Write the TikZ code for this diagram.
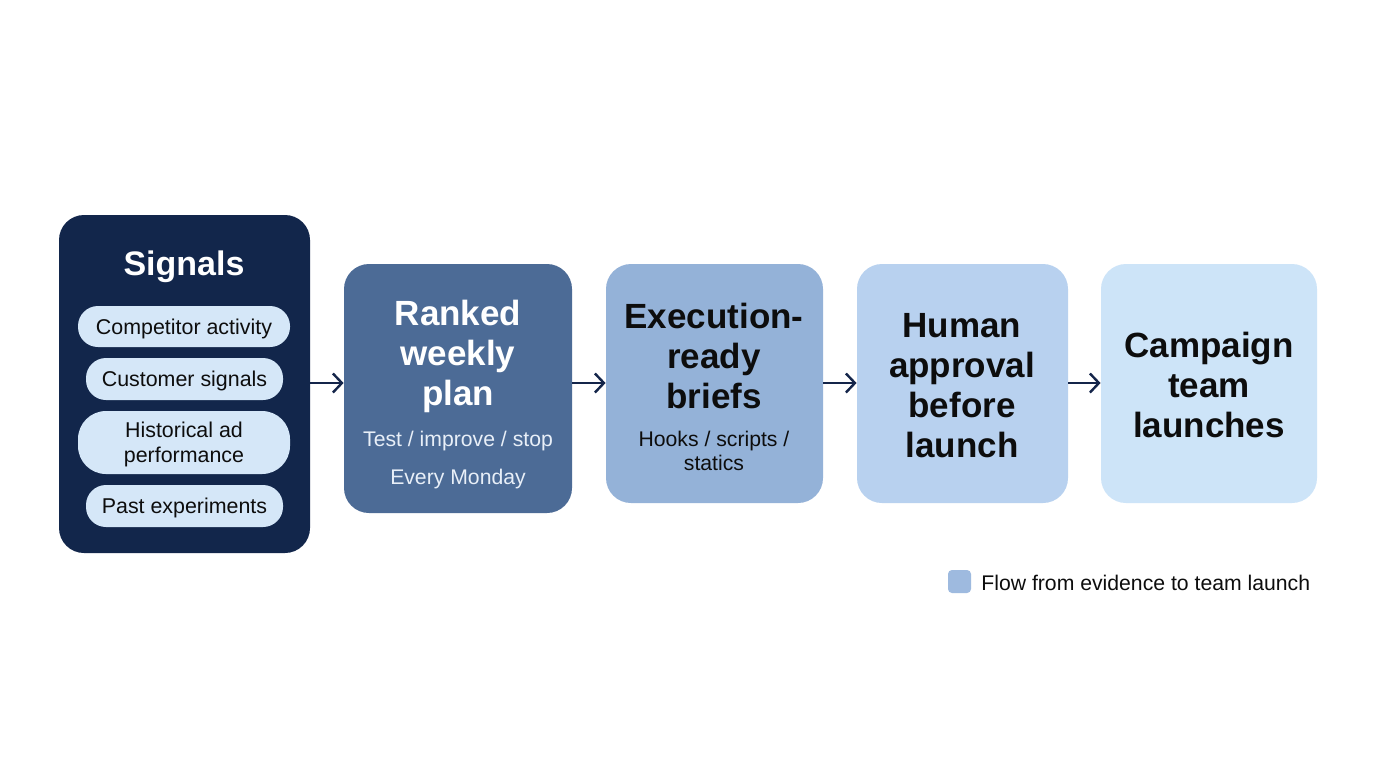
\documentclass[tikz,border=0pt]{standalone}
\usepackage{fontspec}
\setmainfont{Liberation Sans}
\usetikzlibrary{arrows.meta}
\definecolor{navy}{HTML}{12264B}
\definecolor{rankc}{HTML}{4C6B96}
\definecolor{execc}{HTML}{94B2D8}
\definecolor{humanc}{HTML}{B8D1EF}
\definecolor{campc}{HTML}{CDE4F8}
\definecolor{pillc}{HTML}{D5E7F8}
\definecolor{arrowc}{HTML}{14254A}
\definecolor{legc}{HTML}{9EBADF}
\definecolor{inkc}{HTML}{0D0D0D}
\definecolor{softw}{HTML}{E8EFF8}
\newcommand{\pilltxt}[1]{\raisebox{-0.36em}[0pt][0pt]{#1}}
\tikzset{
  stagebox/.style={draw=none, rounded corners=12.5pt, inner sep=0pt},
  pillbox/.style={draw=none, fill=pillc, rounded corners=10pt, inner sep=0pt, minimum width=106pt, text=inkc, font=\fontsize{10.7}{12.3}\selectfont, align=center},
  titletext/.style={font=\bfseries\fontsize{17.5}{20}\selectfont, align=center, inner sep=0pt},
  bodytext/.style={font=\fontsize{10.6}{12}\selectfont, align=center, inner sep=0pt},
  flow/.style={draw=arrowc, line width=1.2pt, -{Straight Barb[length=4.5pt,width=9.5pt,line width=1.2pt]}}
}
\begin{document}
\begin{tikzpicture}[x=0.5pt,y=-0.5pt]
\useasboundingbox[fill=white] (0,0) rectangle (1376,768);
% stage boxes
\node[stagebox, fill=navy, minimum width=125.5pt, minimum height=169pt] (sig) at (184.5,384) {};
\node[stagebox, fill=rankc, minimum width=114pt, minimum height=124.5pt] (rank) at (458,388.5) {};
\node[stagebox, fill=execc, minimum width=108.5pt, minimum height=119.5pt] (exec) at (714.5,383.5) {};
\node[stagebox, fill=humanc, minimum width=105.5pt, minimum height=119.5pt] (hum) at (962.5,383.5) {};
\node[stagebox, fill=campc, minimum width=108pt, minimum height=119.5pt] (camp) at (1209,383.5) {};
% Signals content
\node[titletext, text=white, font=\bfseries\fontsize{17}{20}\selectfont] (sigt) at (184,267) {Signals};
\node[pillbox, minimum height=20.5pt] (p1) at (184,326.5) {\pilltxt{Competitor activity}};
\node[pillbox, minimum height=21pt, minimum width=98.5pt] (p2) at (184.5,379) {\pilltxt{Customer signals}};
\node[pillbox, minimum height=31.5pt, rounded corners=14pt] (p3) at (184,442.5) {};
\node[pillbox, fill=none] (p3t) at (184,444.5) {Historical ad\\performance};
\node[pillbox, minimum height=21pt, minimum width=98.5pt] (p4) at (184.5,506) {\pilltxt{Past experiments}};
% Ranked
\node[titletext, text=white] (rankt) at (458,356) {Ranked\\weekly\\plan};
\node[bodytext, text=softw] (rankb1) at (458,441) {Test / improve / stop};
\node[bodytext, text=softw] (rankb2) at (458,479) {Every Monday};
% Execution
\node[titletext, text=inkc] (exect) at (714,355.5) {Execution-\\ready\\briefs};
\node[bodytext, text=inkc] (execb) at (714,451) {Hooks / scripts /\\statics};
% Human
\node[titletext, text=inkc] (humt) at (962,386) {Human\\approval\\before\\launch};
% Campaign
\node[titletext, text=inkc] (campt) at (1209,385) {Campaign\\team\\launches};
% arrows
\draw[flow] (sig.east |- 0,383) -- (rank.west |- 0,383);
\draw[flow] (rank.east |- 0,383) -- (exec.west |- 0,383);
\draw[flow] (exec.east |- 0,383) -- (hum.west |- 0,383);
\draw[flow] (hum.east |- 0,383) -- (camp.west |- 0,383);
% legend
\node[draw=none, fill=legc, rounded corners=2pt, minimum size=11.5pt, inner sep=0pt] (legsq) at (959.5,581.5) {};
\node[bodytext, text=inkc, anchor=west] (legt) at (981,583) {Flow from evidence to team launch};
\end{tikzpicture}
\end{document}
